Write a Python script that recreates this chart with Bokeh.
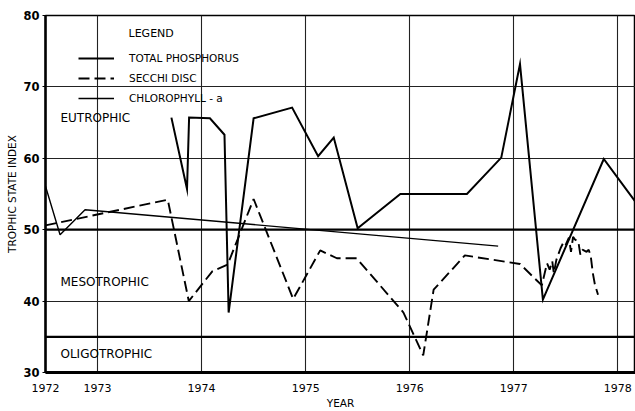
from bokeh.plotting import figure
from bokeh.models import (FixedTicker, CustomJSTickFormatter, Span, Label,
                          Legend, LegendItem)
from bokeh.embed import file_html
from bokeh.resources import INLINE

# ---------------- data (decimal year, trophic state index) ----------------
tp_year = [1973.71, 1973.86, 1973.88, 1974.08, 1974.22, 1974.26, 1974.50,
           1974.87, 1975.12, 1975.27, 1975.50, 1975.91, 1976.55, 1976.88,
           1977.06, 1977.28, 1977.865, 1978.17]
tp_tsi = [65.7, 55.7, 65.7, 65.6, 63.3, 38.4, 65.6,
          67.1, 60.3, 62.9, 50.2, 55.0, 55.0, 60.1,
          73.2, 40.2, 59.9, 53.9]

sd_year = [1972.50, 1973.675, 1973.877, 1974.105, 1974.25, 1974.50, 1974.88,
           1975.14, 1975.30, 1975.49, 1975.94, 1976.13, 1976.23, 1976.53,
           1977.06, 1977.27, 1977.305, 1977.32, 1977.345, 1977.37, 1977.385,
           1977.41, 1977.45, 1977.48, 1977.50, 1977.53, 1977.55, 1977.57,
           1977.59, 1977.62, 1977.64, 1977.66, 1977.70, 1977.72, 1977.74,
           1977.76, 1977.78, 1977.81]
sd_tsi = [50.6, 54.2, 40.0, 44.2, 45.1, 54.3, 40.3,
          47.1, 46.0, 46.0, 38.4, 32.4, 41.6, 46.4,
          45.2, 42.2, 44.4, 45.3, 44.4, 45.6, 43.9,
          45.8, 47.4, 48.3, 47.9, 48.9, 46.9, 49.0,
          48.6, 48.4, 46.5, 47.2, 46.9, 47.2, 46.3,
          43.9, 42.3, 40.9]

chl_year = [1972.50, 1972.64, 1972.88, 1976.85]
chl_tsi = [56.1, 49.3, 52.8, 47.7]

year_ticks = [1972.5, 1973, 1974, 1975, 1976, 1977, 1978]
tsi_ticks = [30, 40, 50, 60, 70, 80]
grid_tsi = [40, 60, 70]
trophic_bounds = [35, 50]
zone_names = ["EUTROPHIC", "MESOTROPHIC", "OLIGOTROPHIC"]
zone_tsi = [65.6, 42.7, 32.6]
series_names = ["TOTAL PHOSPHORUS", "SECCHI DISC", "CHLOROPHYLL - a"]

FONT = "DejaVu Sans"

p = figure(width=635, height=411, x_range=(1972.5, 1978.17), y_range=(30, 80),
           output_backend="svg", toolbar_location=None,
           min_border_left=45, min_border_right=0, min_border_top=15,
           min_border_bottom=36)
p.background_fill_color = "white"
p.border_fill_color = "white"
p.outline_line_color = "black"
p.outline_line_width = 1.5

# grids
p.xgrid.ticker = FixedTicker(ticks=year_ticks[1:])
p.xgrid.grid_line_color = "#222222"
p.xgrid.grid_line_width = 1.1
p.ygrid.ticker = FixedTicker(ticks=grid_tsi)
p.ygrid.grid_line_color = "#222222"
p.ygrid.grid_line_width = 1.1

for b in trophic_bounds:
    p.add_layout(Span(location=b, dimension="width", line_color="black",
                      line_width=2.2))

# axes
p.xaxis.ticker = FixedTicker(ticks=year_ticks)
p.xaxis.formatter = CustomJSTickFormatter(
    code="return tick < 1972.9 ? '1972' : tick.toFixed(0);")
p.xaxis.major_tick_in = 0
p.xaxis.major_tick_out = 0
p.xaxis.minor_tick_line_color = None
p.xaxis.axis_line_width = 3
p.xaxis.axis_line_color = "black"
p.xaxis.major_label_text_font = FONT
p.xaxis.major_label_text_font_size = "11px"
p.xaxis.major_label_text_color = "black"
p.xaxis.major_label_standoff = 11
p.xaxis.axis_label = "YEAR"
p.xaxis.axis_label_text_font = FONT
p.xaxis.axis_label_text_font_size = "10.5px"
p.xaxis.axis_label_text_font_style = "normal"
p.xaxis.axis_label_text_color = "black"
p.xaxis.axis_label_standoff = 2

p.yaxis.ticker = FixedTicker(ticks=tsi_ticks)
p.yaxis.major_tick_in = 0
p.yaxis.major_tick_out = 3
p.yaxis.minor_tick_line_color = None
p.yaxis.axis_line_width = 2.5
p.yaxis.axis_line_color = "black"
p.yaxis.major_label_text_font = FONT
p.yaxis.major_label_text_font_size = "11.5px"
p.yaxis.major_label_text_font_style = "bold"
p.yaxis.major_label_text_color = "black"
p.yaxis.major_label_standoff = 3
p.yaxis.axis_label = "TROPHIC STATE INDEX"
p.yaxis.axis_label_text_font = FONT
p.yaxis.axis_label_text_font_size = "10.5px"
p.yaxis.axis_label_text_font_style = "normal"
p.yaxis.axis_label_text_color = "black"
p.yaxis.axis_label_standoff = 2

# series
r_tp = p.line(tp_year, tp_tsi, line_color="black", line_width=2.0,
              line_join="miter")
r_sd = p.line(sd_year, sd_tsi, line_color="black", line_width=1.9,
              line_dash="11 5")
r_chl = p.line(chl_year, chl_tsi, line_color="black", line_width=1.4)

legend = Legend(items=[LegendItem(label=series_names[0], renderers=[r_tp]),
                       LegendItem(label=series_names[1], renderers=[r_sd]),
                       LegendItem(label=series_names[2], renderers=[r_chl])],
                location=(33, 264), orientation="vertical",
                glyph_width=36, glyph_height=20, label_height=20,
                label_standoff=15, spacing=0, padding=0, margin=0,
                border_line_color=None, background_fill_alpha=0,
                label_text_font=FONT, label_text_font_size="10.5px",
                label_text_color="black")
p.add_layout(legend)

p.add_layout(Label(x=1973.298, y=77.5, text="LEGEND", text_font=FONT,
                   text_font_size="11px", text_baseline="middle",
                   text_color="black"))

for name, v in zip(zone_names, zone_tsi):
    p.add_layout(Label(x=1972.644, y=v, text=name, text_font=FONT,
                       text_font_size="12px", text_baseline="middle",
                       text_color="black"))

open("out.html", "w").write(file_html(p, INLINE))
